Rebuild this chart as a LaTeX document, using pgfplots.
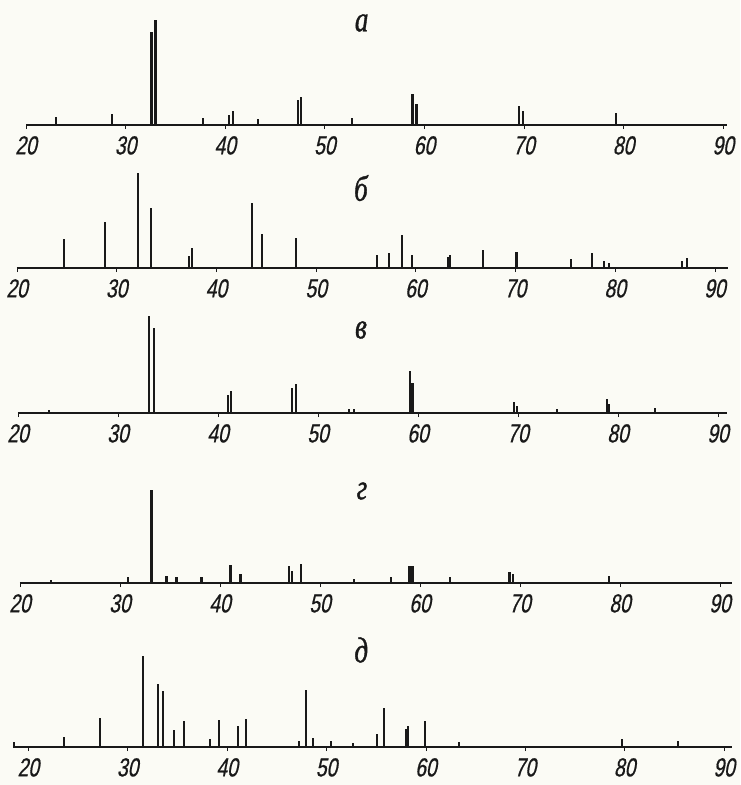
\documentclass[border=0pt]{standalone}
\usepackage{fontspec}
\usepackage{pgfplots}
\pgfplotsset{compat=1.18}
\newfontfamily\gost[FakeSlant=0.2,FakeStretch=0.74,FakeBold=0.6]{Liberation Sans}
\newfontfamily\lett[FakeStretch=0.75,FakeBold=1]{Liberation Serif}
\definecolor{paper}{RGB}{251,251,245}
\definecolor{ink}{RGB}{25,25,25}
\tikzset{letter/.style={font=\lett\itshape\fontsize{36}{36}\selectfont, text=ink, inner sep=0pt}}
\pgfplotsset{
  stick/.style={ycomb, draw=ink, mark=none, line width=2.2pt},
  spec/.style={
    y=1pt, ymin=0, ymax=110,
    anchor=south west, clip=false,
    axis x line*=bottom, axis y line=none,
    x axis line style={-, line width=1.5pt, ink},
    xtick={20,30,...,90},
    xtick align=outside, major tick length=4pt,
    tick style={line width=0.8pt, ink},
    /pgf/number format/assume math mode=true,
    xticklabel style={font=\gost\fontsize{26}{26}\selectfont, text=ink, anchor=north, inner sep=0pt, yshift=-7pt},
  },
}
\begin{document}
\begin{tikzpicture}
\useasboundingbox (0,0) rectangle (740pt,-785pt);
\fill[paper] (0,0) rectangle (740pt,-785pt);

% panel a
\begin{axis}[spec, x=9.96pt, xmin=20, xmax=90.4, at={(26pt,-125pt)}]
\addplot[stick] coordinates {(23.0,8) (28.6,11) (32.6,93) (33.0,105) (37.8,7) (40.4,10) (40.75,14) (43.3,6) (47.3,25) (47.6,28) (52.7,7) (58.8,31) (59.2,21) (69.5,19) (69.9,14) (79.2,12)};
\node[letter] at (axis cs:53.7,102) {а};
\end{axis}

% panel b
\begin{axis}[spec, x=9.97pt, xmin=20, xmax=91.3, at={(17pt,-268pt)}]
\addplot[stick] coordinates {(24.75,29) (28.86,46) (32.17,95) (33.44,60) (37.25,12) (37.55,20) (43.54,65) (44.6,34) (48.0,30) (56.14,13) (57.31,15) (58.58,33) (59.65,13) (63.2,11) (63.4,13) (66.77,18) (70.1,16) (75.54,9) (77.7,15) (78.9,7) (79.4,5) (86.67,7) (87.17,10)};
\node[letter] at (axis cs:54.5,80) {б};
\end{axis}

% panel v
\begin{axis}[spec, x=10pt, xmin=20, xmax=90.9, at={(18pt,-413pt)}]
\addplot[stick] coordinates {(23.1,3) (33.13,97) (33.57,85) (41.03,18) (41.33,22) (47.43,25) (47.8,29) (53.13,4) (53.6,4) (59.2,42) (59.35,30) (59.5,30) (69.6,11) (69.87,7) (73.87,4) (78.87,14) (79.13,9) (83.7,5)};
\node[letter] at (axis cs:54.3,83) {в};
\end{axis}

% panel g
\begin{axis}[spec, x=10pt, xmin=20, xmax=91.2, at={(20pt,-583pt)}]
\addplot[stick] coordinates {(23.07,3) (30.8,6) (33.15,93) (34.65,7) (35.65,6) (38.15,6) (41.05,18) (42.05,9) (46.9,17) (47.23,12) (48.1,19) (53.4,4) (57.1,6) (58.9,17) (59.1,17) (59.3,17) (62.96,6) (68.95,11) (69.3,9) (78.9,7)};
\node[letter] at (axis cs:54.2,92) {г};
\end{axis}

% panel d
\begin{axis}[spec, x=9.94pt, xmin=18.5, xmax=90.76, at={(13.4pt,-747pt)}]
\addplot[stick] coordinates {(18.56,5) (23.6,10) (27.2,29) (31.57,91) (33.08,63) (33.52,56) (34.66,17) (35.69,26) (38.3,8) (39.15,27) (41.13,21) (41.87,28) (47.2,6) (47.94,57) (48.67,9) (50.45,6) (52.64,4) (55.05,13) (55.82,39) (57.97,18) (58.2,21) (59.9,26) (63.36,5) (79.76,8) (85.4,6)};
\node[letter] at (axis cs:53.5,97) {д};
\end{axis}
\end{tikzpicture}
\end{document}
